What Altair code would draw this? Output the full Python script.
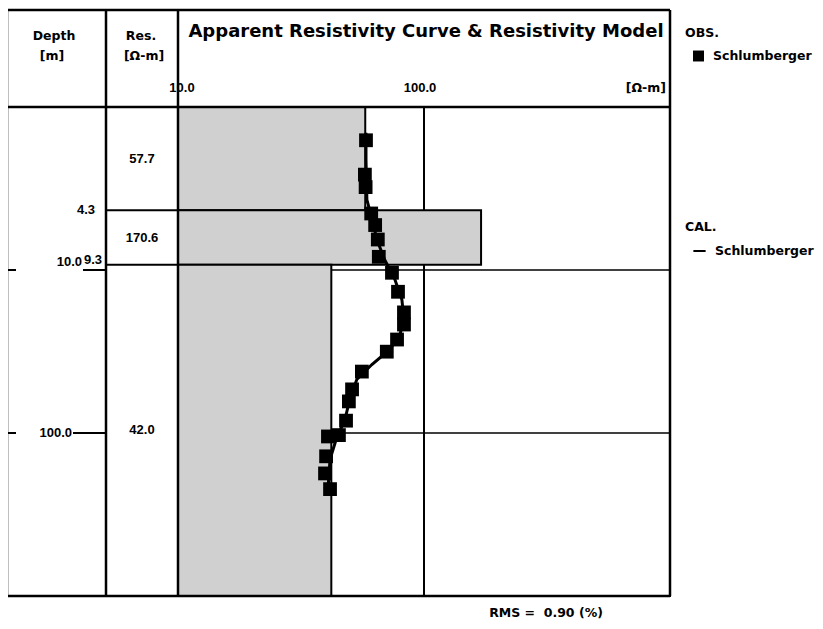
import altair as alt
import pandas as pd
import numpy as np

# ---- data ----
# observed apparent resistivity (Schlumberger): AB/2 [m] and rho_a [ohm-m]
obs_ab2 = [1.6, 2.6, 3.1, 4.5, 5.3, 6.5, 8.3, 10.4, 13.6, 18.2, 21.6, 26.7, 31.7,
           42.0, 54.0, 64.0, 84.0, 103.0, 105.0, 139.0, 177.0, 221.0]
obs_rho = [58.1, 57.5, 57.9, 61.0, 63.3, 64.9, 65.5, 74.1, 78.4, 82.9, 82.9, 77.7, 70.6,
           55.9, 51.0, 49.5, 48.2, 45.1, 40.7, 40.0, 39.6, 41.5]

# calculated curve
cal_ab2 = [1.44, 2.11, 3.71, 4.58, 6.52, 8.65, 11.4, 15.2, 20.2, 24.9, 30.7, 38.0,
           47.0, 62.4, 82.8, 110.0, 145.0, 222.0]
cal_rho = [58.1, 58.1, 58.6, 60.8, 64.4, 69.2, 76.1, 81.3, 82.9, 79.8, 72.6, 61.4,
           53.3, 49.9, 47.7, 43.9, 41.5, 40.7]

# resistivity model
layer_res = [57.7, 170.6, 42.0]
layer_bounds = [4.3, 9.3]
depth_ticks = [10.0, 100.0]
res_ticks = [10.0, 100.0]
rms_percent = 0.90

RHO_DOMAIN = [10, 1000]
DEPTH_DOMAIN = [1, 1000]
W, H = 492, 489
FONT = "DejaVu Sans"
NUMFONT = "Liberation Sans"

tops = [DEPTH_DOMAIN[0]] + layer_bounds
bots = layer_bounds + [DEPTH_DOMAIN[1]]
layers_df = pd.DataFrame({
    "res": layer_res,
    "top": tops,
    "bot": bots,
    "mid": [float(np.sqrt(t * b)) for t, b in zip(tops, bots)],
    "rmin": [RHO_DOMAIN[0]] * len(layer_res),
})
obs_df = pd.DataFrame({"ab2": obs_ab2, "rho": obs_rho, "obs": "Schlumberger"})
cal_df = pd.DataFrame({"ab2": cal_ab2, "rho": cal_rho, "cal": "Schlumberger"})
one = pd.DataFrame({"k": [0]})

xs = alt.Scale(type="log", domain=RHO_DOMAIN, nice=False)
ys = alt.Scale(type="log", domain=DEPTH_DOMAIN, nice=False, reverse=True)


def X(f):
    return alt.X(f, type="quantitative", scale=xs, axis=None)


def Y(f):
    return alt.Y(f, type="quantitative", scale=ys, axis=None)


grid_v = alt.Chart(pd.DataFrame({"rho": [100.0]})).mark_rule(
    color="black", strokeWidth=2).encode(x=X("rho"))

grid_h = alt.Chart(pd.DataFrame({"d": depth_ticks})).mark_rule(
    color="black", strokeWidth=1.5).encode(y=Y("d"))

blocks = alt.Chart(layers_df).mark_rect(
    fill="#d0d0d0", stroke="black", strokeWidth=2).encode(
    x=X("rmin"), x2="res", y=Y("top"), y2="bot")

bound_rules = alt.Chart(pd.DataFrame({"d": layer_bounds})).mark_rule(
    color="black", strokeWidth=2).encode(
    y=Y("d"), x=alt.value(-72), x2=alt.value(0))

legend_common = dict(orient="none", legendX=507, symbolOffset=7, labelOffset=8,
                     titlePadding=10, padding=0, titleFont=FONT, labelFont=FONT,
                     titleFontSize=12.5, titleFontWeight="bold", titleColor="black",
                     labelFontSize=12.5, labelFontWeight="bold", labelColor="black")

cal_line = alt.Chart(cal_df).mark_line(strokeWidth=3, color="black").encode(
    x=X("rho"), y=Y("ab2"), order=alt.Order("ab2:Q"),
    color=alt.Color("cal:N", scale=alt.Scale(domain=["Schlumberger"], range=["black"]),
                    legend=alt.Legend(title="CAL.", legendY=114, symbolType="stroke",
                                      symbolStrokeWidth=2, symbolSize=150, **legend_common)))

obs_pts = alt.Chart(obs_df).mark_point(shape="square", filled=True, size=190, opacity=1).encode(
    x=X("rho"), y=Y("ab2"),
    color=alt.Color("obs:N", scale=alt.Scale(domain=["Schlumberger"], range=["black"]),
                    legend=alt.Legend(title="OBS.", legendY=-80, symbolType="square",
                                      symbolSize=120, **legend_common)))

# table frame (pixel offsets relative to plot origin)
frame_segments = [
    (-171, 492, -97, -97),   # outer top
    (-171, -171, -97, 489),  # outer left
    (-171, 492, 489, 489),   # bottom
    (492, 492, -97, 489),    # right
    (-171, 492, 0, 0),       # header bottom
    (-72, -72, -97, 489),    # depth | res
    (0, 0, -97, 489),        # res | plot
]
frame = [alt.Chart(one).mark_rule(color="black", strokeWidth=2.5).encode(
    x=alt.value(a), x2=alt.value(b), y=alt.value(c), y2=alt.value(d))
    for a, b, c, d in frame_segments]


def txt(x, y, s, size=12.5, align="center", baseline="middle", font=FONT):
    return alt.Chart(one).mark_text(fontSize=size, fontWeight="bold", align=align, font=font,
                                    baseline=baseline, color="black").encode(
        x=alt.value(x), y=alt.value(y), text=alt.value(s))


headers = [
    txt(-124, -71, "Depth"),
    txt(-126, -51, "[m]"),
    txt(-37, -71, "Res."),
    txt(-34, -51, "[Ω-m]"),
    txt(248, -75, "Apparent Resistivity Curve & Resistivity Model", 18),
    txt(488, -19, "[Ω-m]", align="right"),
    txt(368, 506, f"RMS =\u00a0\u00a0{rms_percent:.2f} (%)", 12.5),
]

# x tick labels (top of plot column)
xl10 = alt.Chart(pd.DataFrame({"r": [res_ticks[0]]})).mark_text(
    fontSize=13, fontWeight="bold", font=NUMFONT, align="center", dx=4, color="black").encode(
    x=X("r"), y=alt.value(-19), text=alt.Text("r:Q", format=".1f"))
xl100 = alt.Chart(pd.DataFrame({"r": [res_ticks[1]]})).mark_text(
    fontSize=13, fontWeight="bold", font=NUMFONT, align="center", dx=-4, color="black").encode(
    x=X("r"), y=alt.value(-19), text=alt.Text("r:Q", format=".1f"))

res_labels = alt.Chart(layers_df).mark_text(
    fontSize=13, fontWeight="bold", font=NUMFONT, color="black").encode(
    y=Y("mid"), x=alt.value(-36), text=alt.Text("res:Q", format=".1f"))

b1 = alt.Chart(pd.DataFrame({"d": [layer_bounds[0]]})).mark_text(
    fontSize=13, fontWeight="bold", font=NUMFONT, align="right", baseline="middle",
    color="black").encode(
    y=Y("d"), x=alt.value(-83), text=alt.Text("d:Q", format=".1f"))
b2 = alt.Chart(pd.DataFrame({"d": [layer_bounds[1]]})).mark_text(
    fontSize=13, fontWeight="bold", font=NUMFONT, align="left", baseline="bottom", dy=2,
    color="black").encode(
    y=Y("d"), x=alt.value(-94), text=alt.Text("d:Q", format=".1f"))

t10 = alt.Chart(pd.DataFrame({"d": [depth_ticks[0]]})).mark_text(
    fontSize=13, fontWeight="bold", font=NUMFONT, align="right", baseline="middle", dy=-8,
    color="black").encode(
    y=Y("d"), x=alt.value(-96), text=alt.Text("d:Q", format=".1f"))
t100 = alt.Chart(pd.DataFrame({"d": [depth_ticks[1]]})).mark_text(
    fontSize=13, fontWeight="bold", font=NUMFONT, align="right", baseline="middle",
    color="black").encode(
    y=Y("d"), x=alt.value(-106), text=alt.Text("d:Q", format=".1f"))

tick_l = alt.Chart(pd.DataFrame({"d": depth_ticks})).mark_rule(color="black", strokeWidth=2).encode(
    y=Y("d"), x=alt.value(-171), x2=alt.value(-162))
tick_r10 = alt.Chart(pd.DataFrame({"d": [depth_ticks[0]]})).mark_rule(color="black", strokeWidth=2).encode(
    y=Y("d"), x=alt.value(-95), x2=alt.value(-72))
tick_r100 = alt.Chart(pd.DataFrame({"d": [depth_ticks[1]]})).mark_rule(color="black", strokeWidth=2).encode(
    y=Y("d"), x=alt.value(-105), x2=alt.value(-72))

chart = alt.layer(
    grid_v, grid_h, blocks, bound_rules, cal_line, obs_pts,
    *frame, *headers, xl10, xl100, res_labels, b1, b2, t10, t100,
    tick_l, tick_r10, tick_r100,
).resolve_scale(color="independent").properties(
    width=W, height=H,
    autosize=alt.AutoSizeParams(type="none"),
    padding={"left": 170, "top": 99, "right": 145, "bottom": 24},
).configure(font=FONT).configure_view(stroke="black", strokeWidth=2)

chart.save("out.html", embed_options={"renderer": "svg", "actions": False})
